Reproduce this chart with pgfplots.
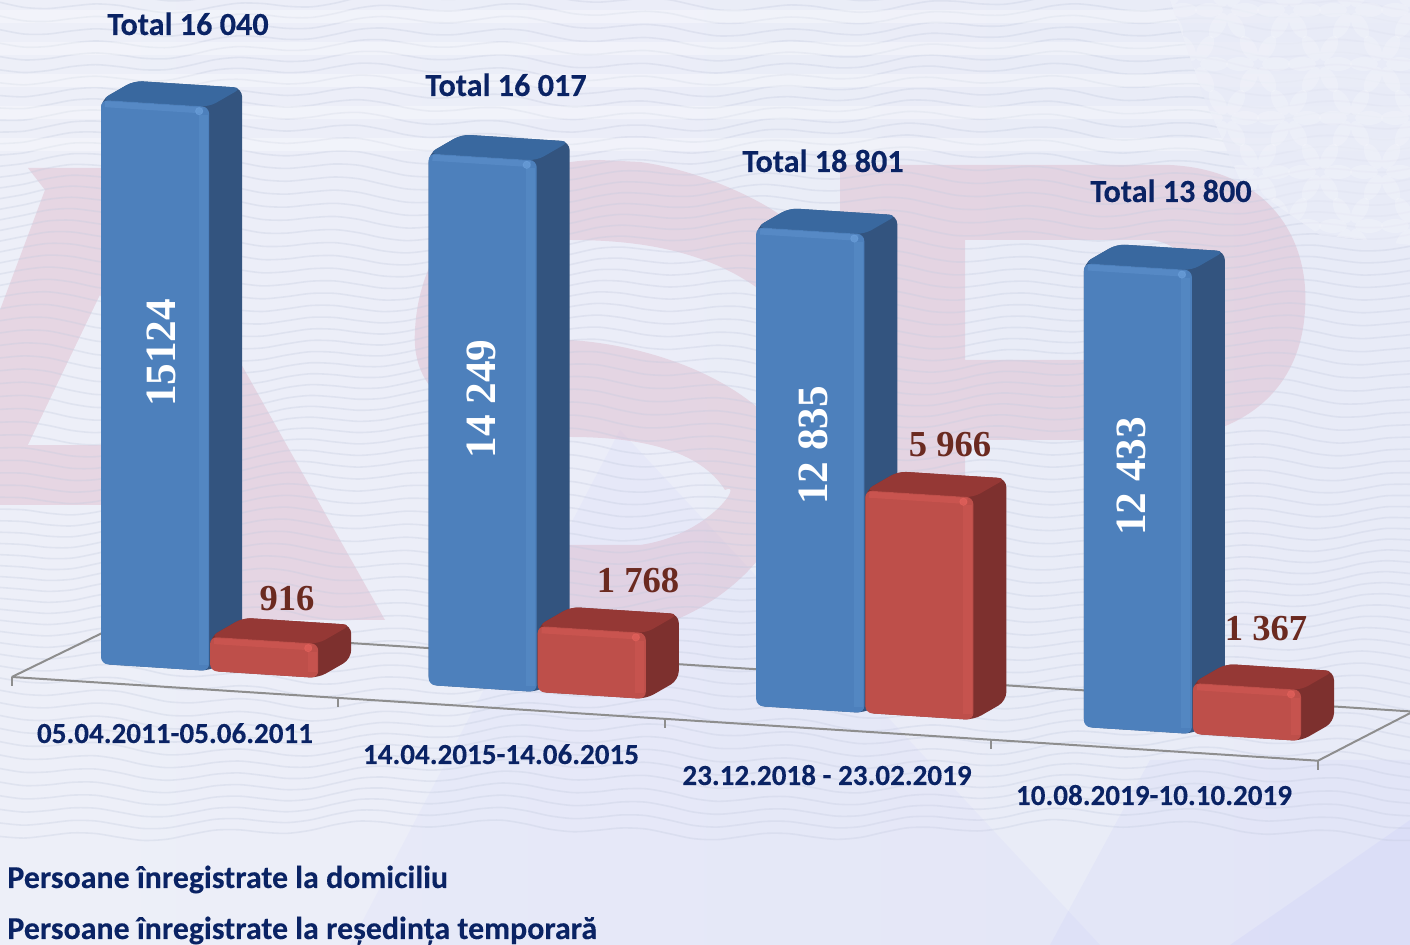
\documentclass[border=0pt]{standalone}
\usepackage{fontspec}
\setmainfont{Carlito}[BoldFeatures={FakeBold=0.2}]
\newfontfamily\numfont{Liberation Serif}
\usepackage{pgfplots}
\pgfplotsset{compat=1.18}
\definecolor{navy}{HTML}{0A2364}
\definecolor{wine}{HTML}{6B2A20}
\definecolor{bluefront}{HTML}{4D80BC}
\definecolor{bluetop}{HTML}{39689F}
\definecolor{blueside}{HTML}{33547F}
\definecolor{bluelight}{HTML}{6FA3DE}
\definecolor{redfront}{HTML}{BE4F4A}
\definecolor{redtop}{HTML}{953835}
\definecolor{redside}{HTML}{7D302E}
\definecolor{redlight}{HTML}{E8645E}
\definecolor{grid}{HTML}{8E8E8E}
\definecolor{pinkbg}{HTML}{D9A9BC}
\definecolor{bgleft}{HTML}{EDEFF8}
\definecolor{bgright}{HTML}{E8EBF7}
\definecolor{wave}{HTML}{C4CBDF}
% #1 left, #2 right, #3 value, #4 colour prefix
\newcommand{\cuboid}[4]{%
  \addplot3[fill=#4side,draw=none,rounded corners=4.5pt] coordinates {(#1,0,0) (#2,0,0) (#2,1,0) (#2,1,#3) (#1,1,#3) (#1,0,#3)} --cycle;
  \addplot3[fill=#4top,draw=none,rounded corners=4pt] coordinates {(#1,0,#3) (#2,0,#3) (#2,1,#3) (#1,1,#3)} --cycle;
  \addplot3[fill=#4front,draw=none,rounded corners=3.5pt] coordinates {(#1,0,0) (#2,0,0) (#2,0,#3) (#1,0,#3)} --cycle;
  \addplot3[draw=#4light,line width=4.5pt,opacity=.2,xshift=-3pt,shorten <=3pt,shorten >=4pt] coordinates {(#2,0,0) (#2,0,#3)};
  \addplot3[draw=#4light,line width=3pt,opacity=.28,yshift=-2pt,shorten <=2pt,shorten >=3pt] coordinates {(#1,0,#3) (#2,0,#3)};
  \addplot3[only marks,mark=*,mark size=1.8pt,draw=#4light,fill=#4light,mark options={draw=#4light,fill=#4light},opacity=.55,xshift=-5pt,yshift=-2.2pt] coordinates {(#2,0,#3)};
}
\begin{document}
\begin{tikzpicture}
\clip (0,0) rectangle (705pt,-472.5pt);
% backdrop
\begin{scope}[x=0.5pt,y=-0.5pt]
\shade[left color=bgleft,right color=bgright] (0,0) rectangle (1410,945);
\fill[blue!30!white,opacity=.08] (350,945) -- (620,430) -- (1100,945) -- cycle;
\fill[blue!40!white,opacity=.07] (1050,945) -- (1150,760) -- (1410,760) -- (1410,945) -- cycle;
\fill[blue!35!white,opacity=.1] (1230,945) -- (1410,820) -- (1410,945) -- cycle;
% letters
\fill[pinkbg,opacity=.35] (28,168) -- (131,168) -- (385,620) -- (242,620) -- (170,505) -- (0,505) -- (0,310) -- (45,190) -- cycle;
\fill[bgleft] (100,295) -- (28,445) -- (170,445) -- cycle;
\fill[pinkbg,opacity=.35] (415,330) .. controls (420,230) and (500,160) .. (600,160) -- (640,162) .. controls (700,170) and (760,200) .. (780,215) -- (760,290) .. controls (700,245) and (620,240) .. (570,240) .. controls (520,240) and (510,335) .. (570,340) .. controls (650,345) and (760,380) .. (800,460) .. controls (790,560) and (700,640) .. (570,640) -- (450,640) -- (470,545) -- (640,545) .. controls (710,535) and (745,480) .. (725,490) .. controls (700,450) and (640,437) .. (570,437) .. controls (470,430) and (410,400) .. (415,330) -- cycle;
\fill[pinkbg,opacity=.35] (840,165) -- (1170,165) .. controls (1270,170) and (1310,240) .. (1305,310) .. controls (1300,400) and (1230,440) .. (1150,440) -- (965,440) -- (965,360) -- (1150,360) .. controls (1215,355) and (1215,245) .. (1150,240) -- (965,240) -- (965,500) -- (840,500) -- cycle;
% waves
\foreach \r in {-10,2,...,830} {
  \draw[wave,line width=.8pt,opacity=.33] plot[domain=0:1410,samples=60,smooth] (\x,{\r+4*sin(\x*2.6+\r*0.5)+7*sin(\x*0.55+\r*0.9)});
}
\foreach \r in {10,42,...,150}{\fill[white,opacity=.3] (0,\r) rectangle (1410,\r+13);}
% flower pattern, top right
\begin{scope}
\clip (1170,0) -- (1205,100) -- (1240,180) -- (1320,235) -- (1410,245) -- (1410,0) -- cycle;
\fill[bgright,opacity=.7] (1170,0) rectangle (1410,245);
\foreach \i in {0,...,4} \foreach \j in {0,...,4} {
  \pgfmathsetmacro\cx{1165+62*\i+31*mod(\j,2)}
  \pgfmathsetmacro\cy{10+54*\j}
  \foreach \a in {0,60,...,300} {
    \fill[white,opacity=.2,shift={(\cx,\cy)},rotate=\a] (18,0) ellipse (14 and 7);
  }
}
\end{scope}
\end{scope}
\begin{axis}[
    at={(50.5pt,-332pt)},anchor=origin,
    x={(163.8pt,-10.5pt)},y={(16.5pt,9.5pt)},z={(0pt,0.01865pt)},
    xmin=-1,xmax=5,ymin=-1,ymax=3,zmin=-1000,zmax=16000,
    hide axis,clip=false,
]
% floor
\addplot3[draw=grid,line width=1pt] coordinates {(-0.183,-0.886,0) (3.804,-0.886,0) (3.831,1.729,0)};
\addplot3[draw=grid,line width=1pt] coordinates {(-0.183,-0.886,0) (-0.14,1.755,0) (3.831,1.729,0)};
\addplot3[draw=grid,line width=1pt] coordinates {(-0.183,-0.886,-240) (-0.183,-0.886,0)};
\addplot3[draw=grid,line width=1pt] coordinates {(0.8136,-0.886,-240) (0.8136,-0.886,0)};
\addplot3[draw=grid,line width=1pt] coordinates {(1.81,-0.886,-240) (1.81,-0.886,0)};
\addplot3[draw=grid,line width=1pt] coordinates {(2.807,-0.886,-240) (2.807,-0.886,0)};
\addplot3[draw=grid,line width=1pt] coordinates {(3.804,-0.886,-240) (3.804,-0.886,0)};
% bars
\cuboid{0}{0.33}{15124}{blue}
\cuboid{0.333}{0.663}{916}{red}
\cuboid{1}{1.33}{14249}{blue}
\cuboid{1.333}{1.663}{1768}{red}
\cuboid{2}{2.33}{12835}{blue}
\cuboid{2.333}{2.663}{5966}{red}
\cuboid{3}{3.33}{12433}{blue}
\cuboid{3.333}{3.663}{1367}{red}
\end{axis}
\begin{scope}[x=0.5pt,y=-0.5pt,every node/.style={inner sep=0pt}]
\begin{scope}[every node/.append style={anchor=base,text=navy,font=\fontsize{16.1}{18}\selectfont\bfseries}]
\node at (188,35) {Total 16 040};
\node at (506,96) {Total 16 017};
\node at (823,172) {Total 18 801};
\node at (1171,202) {Total 13 800};
\end{scope}
\begin{scope}[every node/.append style={anchor=base,text=navy,font=\fontsize{14.55}{16}\selectfont\bfseries}]
\node at (175,743) {05.04.2011-05.06.2011};
\node at (501,764) {14.04.2015-14.06.2015};
\node at (827,785) {23.12.2018 - 23.02.2019};
\node at (1154,805) {10.08.2019-10.10.2019};
\end{scope}
\begin{scope}[every node/.append style={anchor=base west,text=navy,font=\fontsize{15.95}{18}\selectfont\bfseries}]
\node at (7,888) {Persoane înregistrate la domiciliu};
\node at (7,939) {Persoane înregistrate la reședința temporară};
\end{scope}
\begin{scope}[every node/.append style={anchor=base,text=wine,font=\numfont\fontsize{18.3}{20}\selectfont\bfseries}]
\node at (287,611) {916};
\node at (638,593) {1 768};
\node at (950,457) {5 966};
\node at (1266,641) {1 367};
\end{scope}
\begin{scope}[every node/.append style={anchor=center,rotate=90,text=white,font=\numfont\fontsize{21.6}{24}\selectfont\bfseries}]
\node at (161,353) {15124};
\node at (481,399) {14 249};
\node at (813,445.5) {12 835};
\node at (1131,476.5) {12 433};
\end{scope}
\end{scope}
\end{tikzpicture}
\end{document}
